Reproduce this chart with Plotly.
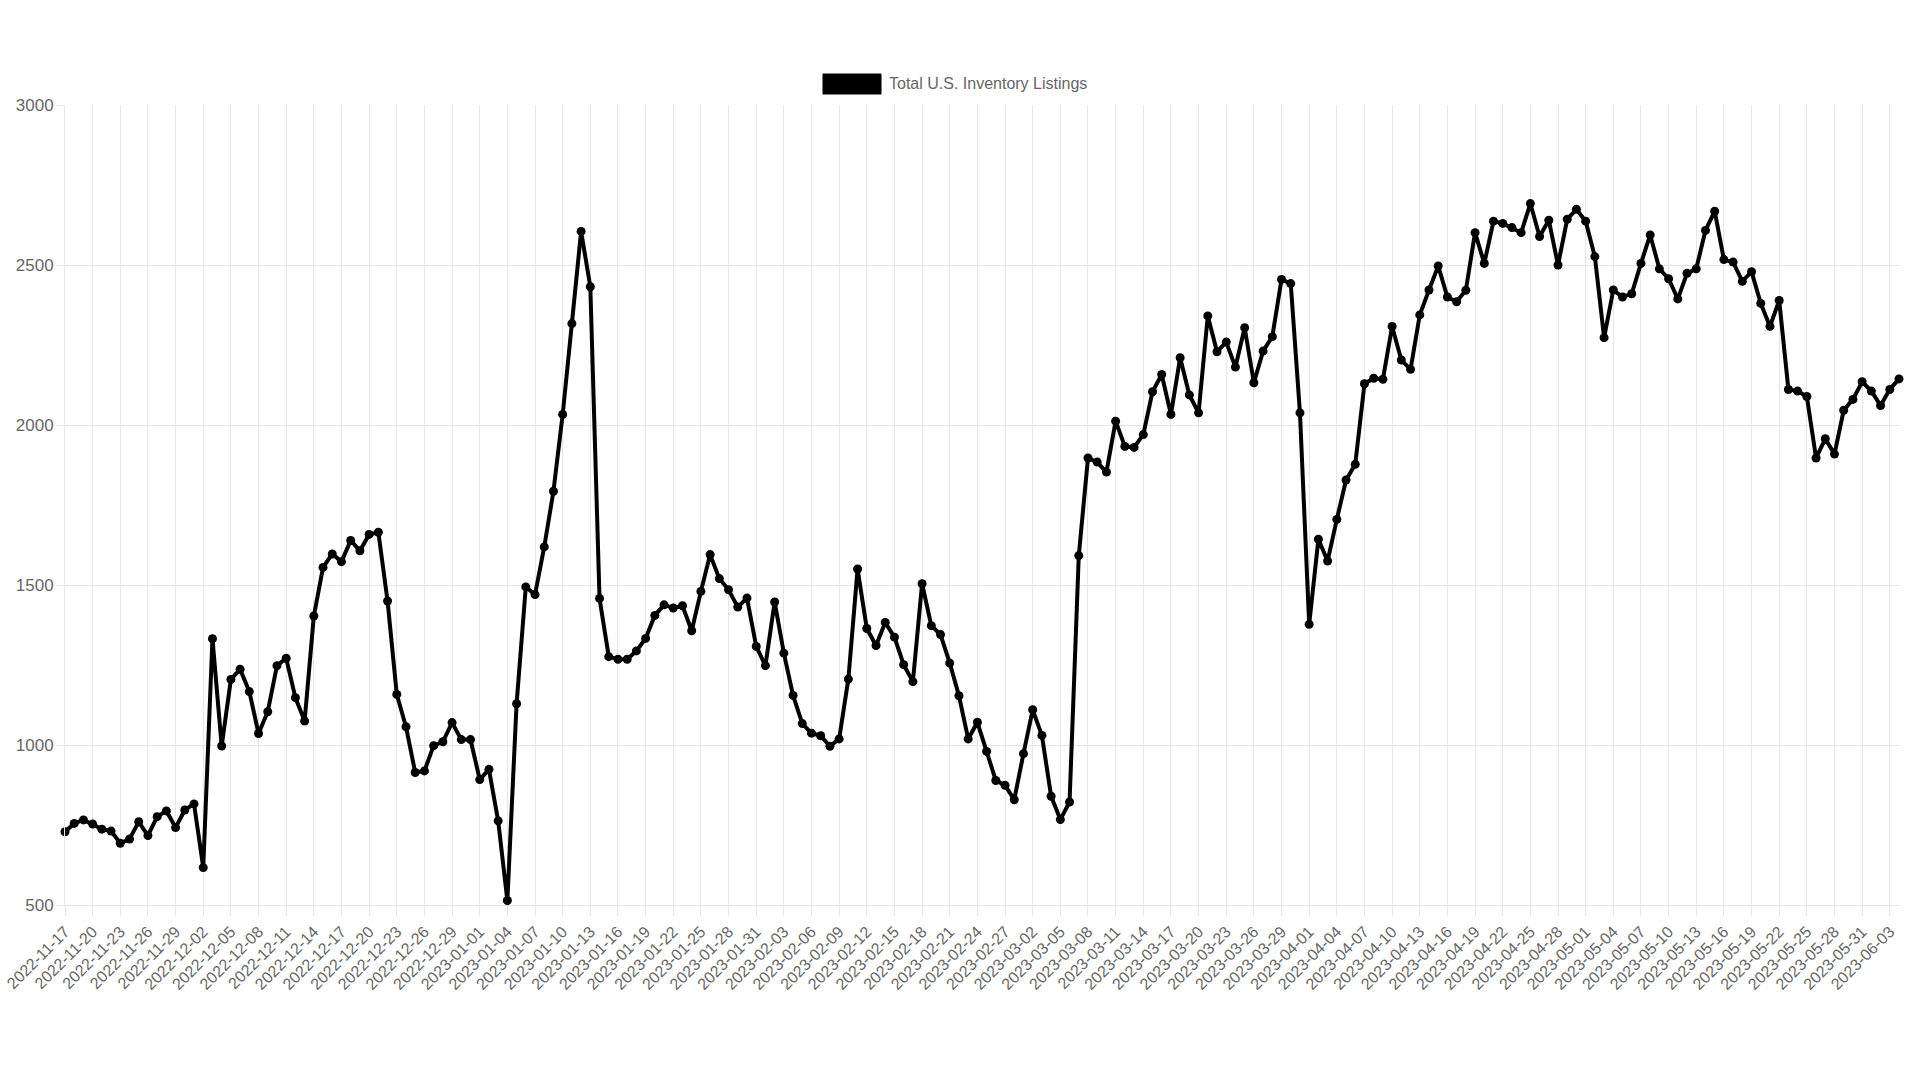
import pandas as pd
import plotly.graph_objects as go

# ---------------- DATA ----------------
series_name = "Total U.S. Inventory Listings"
start_date = "2022-11-17"
listings = [
    729, 755, 766, 753, 737, 731, 693, 706, 760, 717,
    776, 794, 742, 797, 816, 617, 1332, 997, 1205, 1237,
    1167, 1036, 1104, 1248, 1271, 1148, 1075, 1403, 1555, 1597,
    1573, 1639, 1607, 1658, 1665, 1450, 1158, 1057, 914, 919,
    998, 1010, 1070, 1017, 1017, 892, 924, 763, 514, 1129,
    1494, 1470, 1619, 1793, 2033, 2317, 2605, 2432, 1458, 1276,
    1268, 1268, 1294, 1333, 1405, 1438, 1428, 1435, 1357, 1480,
    1595, 1520, 1485, 1431, 1459, 1308, 1248, 1447, 1287, 1155,
    1067, 1037, 1029, 996, 1019, 1206, 1550, 1364, 1311, 1383,
    1337, 1251, 1198, 1504, 1373, 1345, 1256, 1154, 1019, 1071,
    980, 889, 874, 829, 973, 1110, 1030, 840, 767, 822,
    1592, 1897, 1884, 1853, 2012, 1933, 1930, 1970, 2104, 2158,
    2033, 2210, 2094, 2038, 2341, 2229, 2259, 2181, 2304, 2132,
    2231, 2276, 2455, 2442, 2038, 1377, 1643, 1575, 1705, 1828,
    1877, 2129, 2146, 2143, 2308, 2203, 2174, 2344, 2422, 2497,
    2400, 2385, 2421, 2601, 2505, 2637, 2630, 2617, 2601, 2692,
    2589, 2640, 2500, 2643, 2674, 2637, 2526, 2273, 2422, 2400,
    2410, 2505, 2594, 2488, 2457, 2394, 2474, 2488, 2608, 2668,
    2517, 2509, 2449, 2479, 2380, 2308, 2389, 2111, 2106, 2089,
    1897, 1957, 1909, 2046, 2080, 2135, 2106, 2061, 2111, 2144,
]
dates = [d.strftime("%Y-%m-%d") for d in pd.date_range(start_date, periods=len(listings), freq="D")]
tick_labels = dates[::3]
y_ticks = [500, 1000, 1500, 2000, 2500, 3000]

# ---------------- STYLE ----------------
FONT = "Liberation Sans, Arial, Helvetica, sans-serif"
TXT = "#666666"
GRID = "#e6e6e6"
W, H = 1920, 1080
L, R, T, B = 65, 21, 105, 175
pw, ph = W - L - R, H - T - B

fig = go.Figure()
fig.add_trace(go.Scatter(
    x=dates, y=listings, name=series_name,
    mode="lines+markers",
    line=dict(color="#000000", width=4),
    marker=dict(color="#000000", size=9),
    cliponaxis=False,
    showlegend=False,
))

fig.update_layout(
    width=W, height=H,
    margin=dict(l=L, r=R, t=T, b=B, autoexpand=False),
    paper_bgcolor="white", plot_bgcolor="white",
    font=dict(family=FONT, color=TXT),
    xaxis=dict(
        type="date",
        automargin=False,
        range=[dates[0], dates[-1]],
        tickmode="array", tickvals=tick_labels, ticktext=tick_labels,
        tickangle=-45,
        tickfont=dict(size=16, color=TXT, family=FONT),
        showgrid=True, gridcolor=GRID, gridwidth=1,
        ticks="outside", ticklen=10, tickcolor=GRID, tickwidth=1,
        showline=True, linecolor=GRID, linewidth=1,
        zeroline=False,
    ),
    yaxis=dict(
        automargin=False,
        range=[500, 3000],
        tickmode="array", tickvals=y_ticks,
        tickfont=dict(size=17, color=TXT, family=FONT),
        showgrid=True, gridcolor=GRID, gridwidth=1,
        ticks="outside", ticklen=7, tickcolor=GRID, tickwidth=1,
        showline=True, linecolor=GRID, linewidth=1,
        zeroline=False,
    ),
)

# legend (Chart.js style: filled box + label)
box_x0, box_x1 = 823, 881
box_y0, box_y1 = 74, 94
fig.add_shape(
    type="rect", xref="paper", yref="paper",
    x0=(box_x0 - L) / pw, x1=(box_x1 - L) / pw,
    y0=(H - B - box_y1) / ph, y1=(H - B - box_y0) / ph,
    fillcolor="#000000", line=dict(color="#000000", width=1),
)
fig.add_annotation(
    xref="paper", yref="paper",
    x=(887 - L) / pw, y=(H - B - 84) / ph,
    xanchor="left", yanchor="middle", showarrow=False,
    text=series_name, font=dict(size=16, color=TXT, family=FONT),
)

fig.write_html(
    "out.html",
    config={"displayModeBar": False},
    post_script="document.body.style.margin='0';document.body.style.overflow='hidden';",
)
